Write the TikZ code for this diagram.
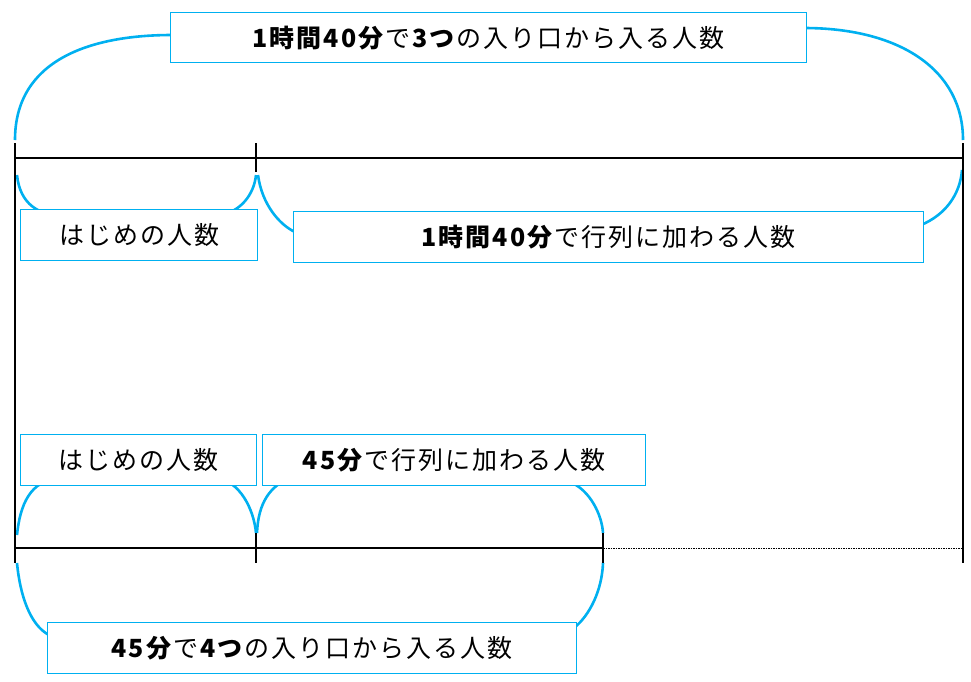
\documentclass[tikz,border=0pt]{standalone}
\usepackage{fontspec}
\setmainfont[LetterSpace=8]{Noto Sans CJK JP}
\begin{document}
\begin{tikzpicture}[x=1pt,y=-1pt,
  arcl/.style={draw={rgb,255:red,0;green,176;blue,240},line width=2.6pt},
  bx/.style={draw={rgb,255:red,0;green,176;blue,240},line width=1.2pt,fill=white,inner sep=0pt,font=\fontsize{25}{28}\selectfont},
  bl/.style={line width=2.4pt}]
\useasboundingbox (0,0) rectangle (971,681);
% arcs
\draw[arcl] (15,140) .. controls (15,60) and (90,35) .. (172,35);
\draw[arcl] (804,28) .. controls (900,28) and (963,70) .. (963,140);
\draw[arcl] (17,175) .. controls (20,205) and (40,215) .. (60,215);
\draw[arcl] (220,215) .. controls (240,212) and (254,195) .. (256,175);
\draw[arcl] (258,175) .. controls (262,205) and (280,225) .. (295,232);
\draw[arcl] (921,225) .. controls (945,215) and (960,195) .. (962,170);
\draw[arcl] (17,535) .. controls (20,505) and (30,480) .. (60,478);
\draw[arcl] (215,478) .. controls (240,480) and (254,510) .. (256,533);
\draw[arcl] (257,533) .. controls (258,510) and (265,488) .. (290,478);
\draw[arcl] (570,482) .. controls (590,490) and (602,515) .. (603,533);
\draw[arcl] (17,563) .. controls (20,595) and (30,625) .. (49,635);
\draw[arcl] (574,628) .. controls (590,615) and (602,590) .. (603,563);
% boxes
\node[bx,minimum width=636,minimum height=50,anchor=north west] (t) at (170,12) {\textbf{1時間40分}で\textbf{3つ}の入り口から入る人数};
\node[bx,minimum width=237,minimum height=51,anchor=north west] (h1) at (20,209) {はじめの人数};
\node[bx,minimum width=630,minimum height=51,anchor=north west] (k1) at (293,211) {\textbf{1時間40分}で行列に加わる人数};
\node[bx,minimum width=236,minimum height=51,anchor=north west] (h2) at (20,434) {はじめの人数};
\node[bx,minimum width=383,minimum height=51,anchor=north west] (k2) at (262,434) {\textbf{45分}で行列に加わる人数};
\node[bx,minimum width=529,minimum height=51,anchor=north west] (b) at (47,622) {\textbf{45分}で\textbf{4つ}の入り口から入る人数};
% lines
\coordinate (a1) at (15,158); \coordinate (a2) at (963,158);
\coordinate (c1) at (15,548); \coordinate (c2) at (603,548); \coordinate (c3) at (963,548);
\draw[bl] (a1) -- (a2);
\draw[bl] (15,143) -- (15,563);
\draw[bl] (963,143) -- (963,563);
\draw[bl] (256,143) -- (256,172);
\draw[bl] (c1) -- (c2);
\draw[dashed,line width=0.6pt,dash pattern=on 1.5pt off 1pt] (c2) -- (c3);
\draw[bl] (256,533) -- (256,563);
\draw[bl] (603,533) -- (603,563);
\end{tikzpicture}
\end{document}
